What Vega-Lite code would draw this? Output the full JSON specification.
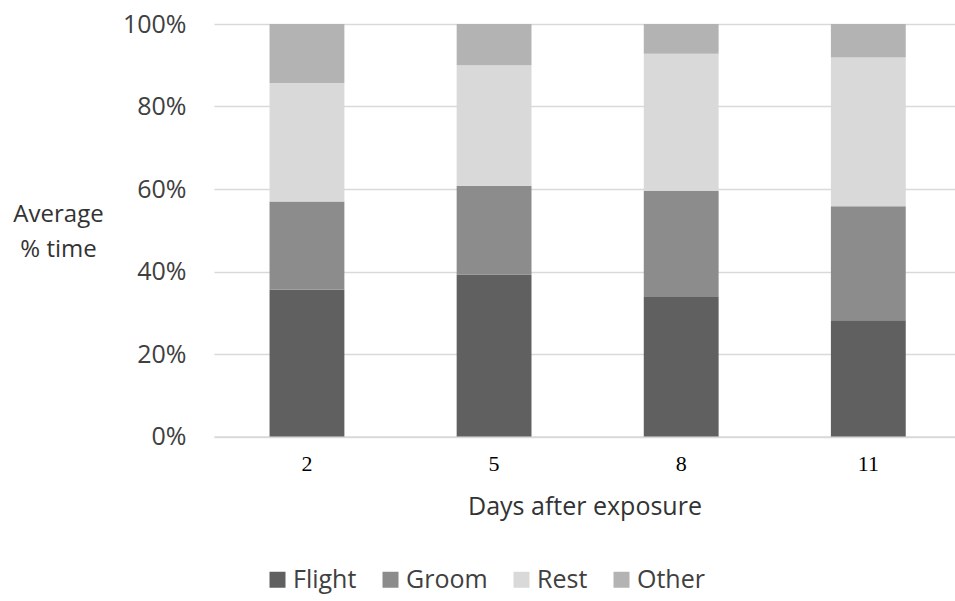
{
  "$schema": "https://vega.github.io/schema/vega-lite/v6.json",
  "width": 741,
  "height": 412.5,
  "autosize": "none",
  "padding": {"left": 214, "top": 24, "right": 0, "bottom": 164.5},
  "background": "white",
  "config": {"view": {"stroke": null}, "font": "Open Sans"},
  "data": {
    "values": [
      {"day": 2, "activity": "Flight", "pct": 35.6},
      {"day": 2, "activity": "Groom", "pct": 21.4},
      {"day": 2, "activity": "Rest", "pct": 28.7},
      {"day": 2, "activity": "Other", "pct": 14.3},
      {"day": 5, "activity": "Flight", "pct": 39.3},
      {"day": 5, "activity": "Groom", "pct": 21.5},
      {"day": 5, "activity": "Rest", "pct": 29.2},
      {"day": 5, "activity": "Other", "pct": 10.0},
      {"day": 8, "activity": "Flight", "pct": 33.8},
      {"day": 8, "activity": "Groom", "pct": 25.8},
      {"day": 8, "activity": "Rest", "pct": 33.2},
      {"day": 8, "activity": "Other", "pct": 7.2},
      {"day": 11, "activity": "Flight", "pct": 28.2},
      {"day": 11, "activity": "Groom", "pct": 27.6},
      {"day": 11, "activity": "Rest", "pct": 36.1},
      {"day": 11, "activity": "Other", "pct": 8.1}
    ]
  },
  "transform": [
    {"calculate": "indexof(['Flight', 'Groom', 'Rest', 'Other'], datum.activity)", "as": "stackOrder"}
  ],
  "mark": {"type": "bar"},
  "encoding": {
    "x": {
      "field": "day",
      "type": "ordinal",
      "sort": [2, 5, 8, 11],
      "scale": {"paddingInner": 0.6, "paddingOuter": 0.28, "align": 0.53},
      "axis": {
        "labelAngle": 0,
        "labelFont": "Liberation Serif",
        "labelFontSize": 22,
        "labelColor": "#000000",
        "labelPadding": 17,
        "ticks": false,
        "domain": true,
        "domainColor": "#d9d9d9",
        "domainWidth": 1.5,
        "title": "Days after exposure",
        "titleFont": "Open Sans",
        "titleFontSize": 25,
        "titleFontWeight": "normal",
        "titleColor": "#333333",
        "titlePadding": 20
      }
    },
    "y": {
      "field": "pct",
      "type": "quantitative",
      "stack": "zero",
      "scale": {"domain": [0, 100]},
      "axis": {
        "values": [0, 20, 40, 60, 80, 100],
        "labelExpr": "datum.value + '%'",
        "labelFont": "Open Sans",
        "labelFontSize": 25,
        "labelColor": "#404040",
        "labelPadding": 28,
        "domain": false,
        "ticks": false,
        "grid": true,
        "gridColor": "#d9d9d9",
        "gridWidth": 1.5,
        "title": ["Average", "% time"],
        "titleAngle": 0,
        "titleAlign": "center",
        "titleBaseline": "alphabetic",
        "titleX": -156,
        "titleY": 197,
        "titleLineHeight": 35,
        "titleFont": "Open Sans",
        "titleFontSize": 24,
        "titleFontWeight": "normal",
        "titleColor": "#333333"
      }
    },
    "order": {"field": "stackOrder", "type": "quantitative", "sort": "ascending"},
    "color": {
      "field": "activity",
      "type": "nominal",
      "sort": ["Flight", "Groom", "Rest", "Other"],
      "scale": {
        "domain": ["Flight", "Groom", "Rest", "Other"],
        "range": ["#606060", "#8c8c8c", "#d9d9d9", "#b3b3b3"]
      },
      "legend": {
        "orient": "none",
        "legendX": 51,
        "legendY": 543,
        "direction": "horizontal",
        "title": null,
        "padding": 0,
        "symbolType": "square",
        "symbolSize": 256,
        "symbolStrokeWidth": 0,
        "symbolOpacity": 1,
        "labelFont": "Open Sans",
        "labelFontSize": 25,
        "labelColor": "#404040",
        "labelOffset": 3,
        "columnPadding": 21
      }
    }
  }
}
